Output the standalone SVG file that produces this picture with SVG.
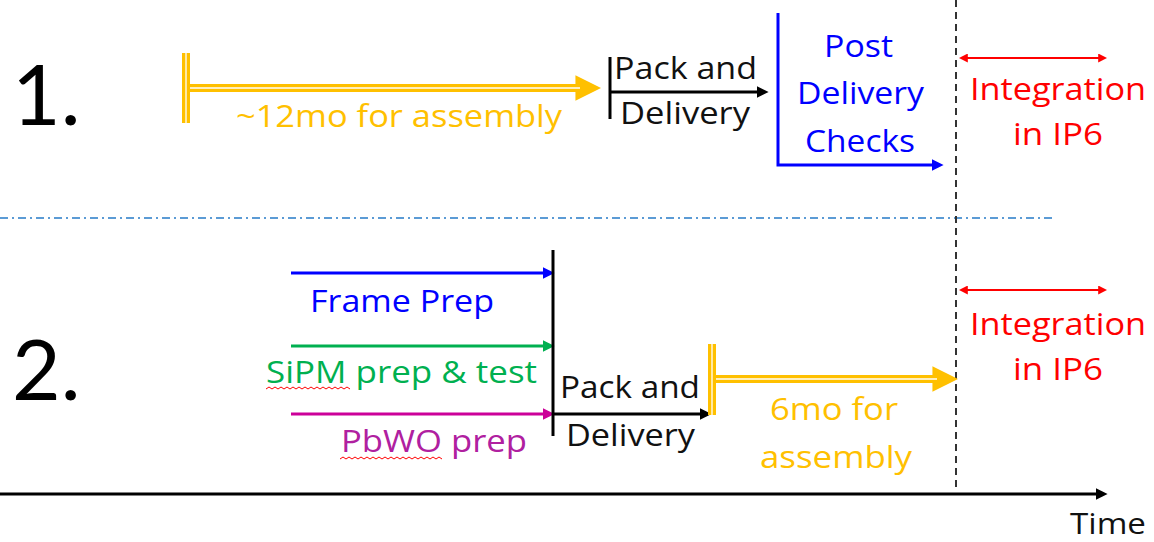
<svg xmlns="http://www.w3.org/2000/svg" width="1154" height="542" viewBox="0 0 1154 542">
<style>
text{font-family:"Open Sans","Liberation Sans",sans-serif;}
.big{font-size:84px;fill:#000;font-family:Lato,"Liberation Sans",sans-serif;}
.t{font-size:31px;}
.y{fill:#FFC000;} .b{fill:#0000FF;} .r{fill:#FF0000;} .g{fill:#00B050;} .m{fill:#B020A0;} .k{fill:#111;}
</style>
<defs>
<marker id="ay" viewBox="0 0 10 10" refX="1" refY="5" markerWidth="3.2" markerHeight="3.4" orient="auto" markerUnits="strokeWidth"><path d="M0,0L10,5L0,10z" fill="#FFC000"/></marker>
<marker id="ak" viewBox="0 0 10 10" refX="2" refY="5" markerWidth="4" markerHeight="4" orient="auto" markerUnits="strokeWidth"><path d="M0,0L10,5L0,10z" fill="#000"/></marker>
<marker id="ab" viewBox="0 0 10 10" refX="2" refY="5" markerWidth="4" markerHeight="4" orient="auto" markerUnits="strokeWidth"><path d="M0,0L10,5L0,10z" fill="#0000FF"/></marker>
<marker id="ag" viewBox="0 0 10 10" refX="2" refY="5" markerWidth="4" markerHeight="4" orient="auto" markerUnits="strokeWidth"><path d="M0,0L10,5L0,10z" fill="#00B050"/></marker>
<marker id="am" viewBox="0 0 10 10" refX="2" refY="5" markerWidth="4" markerHeight="4" orient="auto" markerUnits="strokeWidth"><path d="M0,0L10,5L0,10z" fill="#CC0099"/></marker>
<marker id="ar" viewBox="0 0 10 10" refX="2" refY="5" markerWidth="5" markerHeight="5" orient="auto-start-reverse" markerUnits="strokeWidth"><path d="M0,0L10,5L0,10z" fill="#FF0000"/></marker>
</defs>

<g id="labels">
<text class="big" x="12" y="125">1.</text>
<text class="big" x="12" y="400">2.</text>
</g>

<g id="separator">
<line x1="0" y1="218" x2="1056" y2="218" stroke="#5B9BD5" stroke-width="2" stroke-dasharray="8,4,2,4"/>
</g>

<g id="connectors" fill="none">
<line x1="186" y1="88" x2="578" y2="88" stroke="#FFC000" stroke-width="8" marker-end="url(#ay)"/>
<line x1="188" y1="88" x2="580" y2="88" stroke="#fff" stroke-width="1.3"/>
<line x1="186" y1="53" x2="186" y2="123" stroke="#FFC000" stroke-width="8"/>
<line x1="186" y1="53" x2="186" y2="123" stroke="#fff" stroke-width="1.3"/>
<line x1="610" y1="57" x2="610" y2="119" stroke="#000" stroke-width="3"/>
<line x1="610" y1="92" x2="759" y2="92" stroke="#000" stroke-width="3" marker-end="url(#ak)"/>
<polyline points="778,13 778,165 934,165" stroke="#0000FF" stroke-width="3" marker-end="url(#ab)"/>
<line x1="966" y1="58" x2="1100" y2="58" stroke="#FF0000" stroke-width="1.8" marker-start="url(#ar)" marker-end="url(#ar)"/>
<line x1="966" y1="290" x2="1100" y2="290" stroke="#FF0000" stroke-width="1.8" marker-start="url(#ar)" marker-end="url(#ar)"/>
<line x1="956" y1="0" x2="956" y2="492" stroke="#333" stroke-width="2" stroke-dasharray="7,5"/>
<line x1="291" y1="273" x2="545" y2="273" stroke="#0000FF" stroke-width="3" marker-end="url(#ab)"/>
<line x1="291" y1="346" x2="545" y2="346" stroke="#00B050" stroke-width="3" marker-end="url(#ag)"/>
<line x1="291" y1="414" x2="545" y2="414" stroke="#CC0099" stroke-width="3" marker-end="url(#am)"/>
<line x1="553" y1="250" x2="553" y2="436" stroke="#000" stroke-width="3"/>
<line x1="553" y1="414" x2="702" y2="414" stroke="#000" stroke-width="3" marker-end="url(#ak)"/>
<line x1="712" y1="379" x2="935" y2="379" stroke="#FFC000" stroke-width="8" marker-end="url(#ay)"/>
<line x1="714" y1="379" x2="937" y2="379" stroke="#fff" stroke-width="1.3"/>
<line x1="712" y1="344" x2="712" y2="415" stroke="#FFC000" stroke-width="8"/>
<line x1="712" y1="344" x2="712" y2="415" stroke="#fff" stroke-width="1.3"/>
<line x1="0" y1="494" x2="1098" y2="494" stroke="#000" stroke-width="3" marker-end="url(#ak)"/>
<path d="M266,389 l3,-2 l3,2 l3,-2 l3,2 l3,-2 l3,2 l3,-2 l3,2 l3,-2 l3,2 l3,-2 l3,2 l3,-2 l3,2 l3,-2 l3,2 l3,-2 l3,2 l3,-2 l3,2 l3,-2 l3,2 l3,-2 l3,2 l3,-2 l3,2 l3,-2 l3,2" stroke="#FF0000" stroke-width="1"/>
<path d="M340,459 l3,-2 l3,2 l3,-2 l3,2 l3,-2 l3,2 l3,-2 l3,2 l3,-2 l3,2 l3,-2 l3,2 l3,-2 l3,2 l3,-2 l3,2 l3,-2 l3,2 l3,-2 l3,2 l3,-2 l3,2 l3,-2 l3,2 l3,-2 l3,2 l3,-2 l3,2 l3,-2 l3,2 l3,-2 l3,2 l3,-2 l3,2" stroke="#FF0000" stroke-width="1"/>
</g>

<g id="node-assembly-12mo"><text class="t y" x="236" y="127" textLength="326" lengthAdjust="spacingAndGlyphs">~12mo for assembly</text></g>
<g id="node-pack1"><text class="t k" x="614" y="79" textLength="143" lengthAdjust="spacingAndGlyphs">Pack and</text><text class="t k" x="620" y="124" textLength="130" lengthAdjust="spacingAndGlyphs">Delivery</text></g>
<g id="node-post"><text class="t b" x="824" y="57" textLength="69" lengthAdjust="spacingAndGlyphs">Post</text><text class="t b" x="797" y="104" textLength="127" lengthAdjust="spacingAndGlyphs">Delivery</text><text class="t b" x="805" y="152" textLength="110" lengthAdjust="spacingAndGlyphs">Checks</text></g>
<g id="node-integration1"><text class="t r" x="970" y="100" textLength="176" lengthAdjust="spacingAndGlyphs">Integration</text><text class="t r" x="1013" y="145" textLength="90" lengthAdjust="spacingAndGlyphs">in IP6</text></g>
<g id="node-frame"><text class="t b" x="310" y="312" textLength="184" lengthAdjust="spacingAndGlyphs">Frame Prep</text></g>
<g id="node-sipm"><text class="t g" x="266" y="383" textLength="271" lengthAdjust="spacingAndGlyphs">SiPM prep &amp; test</text></g>
<g id="node-pbwo"><text class="t m" x="341" y="452" textLength="186" lengthAdjust="spacingAndGlyphs">PbWO prep</text></g>
<g id="node-pack2"><text class="t k" x="560" y="398" textLength="140" lengthAdjust="spacingAndGlyphs">Pack and</text><text class="t k" x="566" y="446" textLength="129" lengthAdjust="spacingAndGlyphs">Delivery</text></g>
<g id="node-assembly-6mo"><text class="t y" x="770" y="420" textLength="128" lengthAdjust="spacingAndGlyphs">6mo for</text><text class="t y" x="760" y="468" textLength="152" lengthAdjust="spacingAndGlyphs">assembly</text></g>
<g id="node-integration2"><text class="t r" x="970" y="335" textLength="176" lengthAdjust="spacingAndGlyphs">Integration</text><text class="t r" x="1013" y="380" textLength="90" lengthAdjust="spacingAndGlyphs">in IP6</text></g>
<g id="node-time"><text class="k" style="font-size:29px" x="1070" y="534" textLength="76" lengthAdjust="spacingAndGlyphs">Time</text></g>
</svg>
